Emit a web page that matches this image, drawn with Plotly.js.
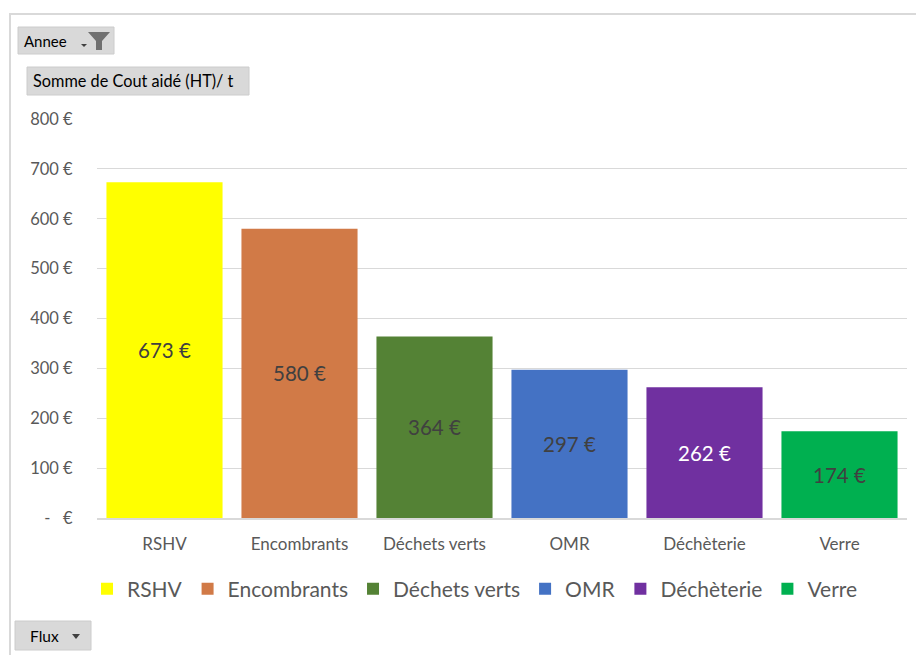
<!DOCTYPE html>
<html>
<head>
<meta charset="utf-8">
<script src="https://cdn.plot.ly/plotly-3.0.1.min.js"></script>
<style>html,body{margin:0;padding:0;background:#fff}#chart{width:916px;height:655px}</style>
</head>
<body>
<div id="chart"></div>
<script>
const categories = ["RSHV", "Encombrants", "Déchets verts", "OMR", "Déchèterie", "Verre"];
const values = [673, 580, 364, 297, 262, 174];
const colors = ["#FFFF00", "#D17A47", "#548235", "#4472C4", "#7030A0", "#00B050"];
const labelColors = ["#404040", "#404040", "#404040", "#404040", "#FFFFFF", "#404040"];
const tickVals = [0, 100, 200, 300, 400, 500, 600, 700, 800];
const tickText = ["-\u00a0\u00a0\u00a0€", "100 €", "200 €", "300 €", "400 €", "500 €", "600 €", "700 €", "800 €"];

const W = 916, H = 655;
const M = {l: 97, r: 9, t: 119, b: 137};
const pw = W - M.l - M.r, ph = H - M.t - M.b;
const px = x => (x - M.l) / pw;
const py = y => (H - M.b - y) / ph;
const FONT = "Lato, 'Open Sans', sans-serif";

const traces = categories.map((c, i) => ({
  type: "bar",
  name: c,
  x: [c],
  y: [values[i]],
  marker: {color: colors[i]},
  text: [values[i] + " €"],
  textposition: "inside",
  insidetextanchor: "middle",
  textangle: 0,
  constraintext: "none",
  textfont: {family: FONT, size: 20.5, color: labelColors[i]},
  hoverinfo: "skip"
}));

function box(x0, y0, x1, y1) {
  return {type: "rect", xref: "paper", yref: "paper", x0: px(x0), x1: px(x1), y0: py(y1), y1: py(y0),
    fillcolor: "#d9d9d9", line: {color: "#cccccc", width: 1}, layer: "above"};
}

const shapes = [
  {type: "rect", xref: "paper", yref: "paper", x0: px(10), x1: px(940), y0: py(680), y1: py(14),
   fillcolor: "rgba(0,0,0,0)", line: {color: "#d9d9d9", width: 2}, layer: "below"},
  box(18, 27, 114, 54),
  box(27, 67, 249, 95),
  box(15, 621, 91, 650),
  {type: "path", xref: "paper", yref: "paper",
   path: `M ${px(88)} ${py(32)} L ${px(110)} ${py(32)} L ${px(102)} ${py(41)} L ${px(102)} ${py(50)} L ${px(96)} ${py(50)} L ${px(96)} ${py(41)} Z`,
   fillcolor: "#707070", line: {width: 0}, layer: "above"},
  {type: "path", xref: "paper", yref: "paper",
   path: `M ${px(81)} ${py(44)} L ${px(87)} ${py(44)} L ${px(84)} ${py(47)} Z`,
   fillcolor: "#404040", line: {width: 0}, layer: "above"},
  {type: "path", xref: "paper", yref: "paper",
   path: `M ${px(72)} ${py(634)} L ${px(80)} ${py(634)} L ${px(76)} ${py(639)} Z`,
   fillcolor: "#404040", line: {width: 0}, layer: "above"}
];

const annotations = [
  {text: "Annee", x: px(22), y: py(41), xref: "paper", yref: "paper", xanchor: "left", yanchor: "middle",
   showarrow: false, font: {family: FONT, size: 15, color: "#000000"}},
  {text: "Somme de Cout aidé (HT)/ t", x: px(31), y: py(81), xref: "paper", yref: "paper", xanchor: "left", yanchor: "middle",
   showarrow: false, font: {family: FONT, size: 16.3, color: "#000000"}},
  {text: "Flux", x: px(28), y: py(636), xref: "paper", yref: "paper", xanchor: "left", yanchor: "middle",
   showarrow: false, font: {family: FONT, size: 15.5, color: "#000000"}}
];

const layout = {
  width: W, height: H,
  margin: M,
  paper_bgcolor: "#ffffff",
  plot_bgcolor: "#ffffff",
  barmode: "overlay",
  bargap: 0.14,
  font: {family: FONT, color: "#595959"},
  showlegend: true,
  legend: {orientation: "h", x: px(475), xanchor: "center", y: py(589), yanchor: "middle",
           font: {family: FONT, size: 21, color: "#595959"}, itemwidth: 30, traceorder: "normal",
           bgcolor: "rgba(0,0,0,0)"},
  xaxis: {type: "category", categoryorder: "array", categoryarray: categories,
          showgrid: false, showline: true, linecolor: "#d9d9d9", linewidth: 1.5,
          ticks: "outside", ticklen: 10, tickcolor: "rgba(0,0,0,0)",
          tickfont: {family: FONT, size: 17, color: "#595959"}, fixedrange: true},
  yaxis: {range: [0, 800], tickvals: tickVals, ticktext: tickText,
          showgrid: true, gridcolor: "#d9d9d9", gridwidth: 1, zeroline: false, showline: false,
          ticks: "outside", ticklen: 20, tickcolor: "rgba(0,0,0,0)",
          tickfont: {family: FONT, size: 16.5, color: "#595959"}, fixedrange: true},
  shapes: shapes,
  annotations: annotations
};

Plotly.newPlot("chart", traces, layout, {displayModeBar: false, staticPlot: true});
</script>
</body>
</html>
